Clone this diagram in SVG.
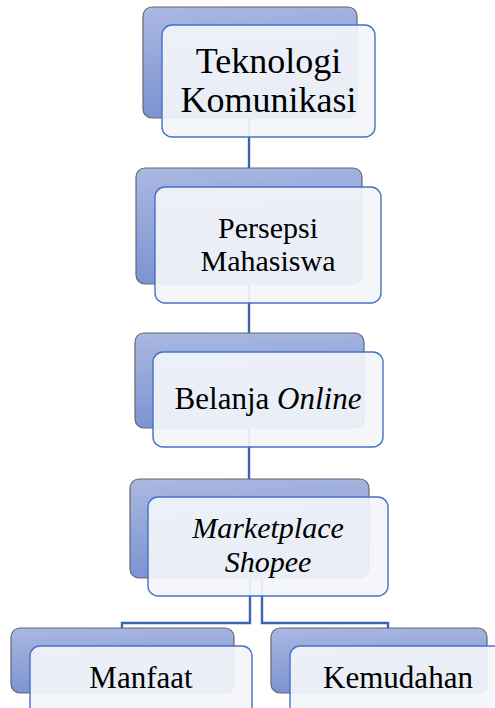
<svg xmlns="http://www.w3.org/2000/svg" width="495" height="708" viewBox="0 0 495 708">
  <defs>
    <linearGradient id="backGrad" x1="0" y1="0" x2="0.15" y2="1">
      <stop offset="0" stop-color="#aab8e1"/>
      <stop offset="1" stop-color="#7c93d2"/>
    </linearGradient>
    <style>
      .back { fill: url(#backGrad); stroke: #62666e; stroke-width: 1.2; }
      .front { fill: #f3f5fa; fill-opacity: 0.92; stroke: #4472c4; stroke-width: 1.4; }
      .conn { fill: none; stroke: #3d65ad; stroke-width: 2.4; }
      .lbl { font-family: "Liberation Serif", "Times New Roman", serif; fill: #000; text-anchor: middle; }
      .it { font-style: italic; }
    </style>
  </defs>
  <rect width="495" height="708" fill="#ffffff"/>

  <g id="connectors">
    <path class="conn" d="M249,118 V168"/>
    <path class="conn" d="M249,284 V333"/>
    <path class="conn" d="M249,428 V479"/>
    <path class="conn" d="M250,578 V623 H122 V629"/>
    <path class="conn" d="M262,578 V623 H388 V629"/>
  </g>

  <g id="node-teknologi">
    <rect class="back" x="143" y="7" width="214" height="111" rx="9"/>
    <rect class="front" x="162" y="25" width="213" height="112" rx="10"/>
    <text class="lbl" font-size="36" x="268.5" y="73">Teknologi</text>
    <text class="lbl" font-size="36" x="268.5" y="112">Komunikasi</text>
  </g>

  <g id="node-persepsi">
    <rect class="back" x="136" y="168" width="226" height="116" rx="9"/>
    <rect class="front" x="155" y="187" width="226" height="116" rx="10"/>
    <text class="lbl" font-size="30" x="268" y="238">Persepsi</text>
    <text class="lbl" font-size="30" x="268" y="271">Mahasiswa</text>
  </g>

  <g id="node-belanja">
    <rect class="back" x="135" y="333" width="229" height="95" rx="9"/>
    <rect class="front" x="153" y="352" width="230" height="95" rx="10"/>
    <text class="lbl" font-size="31" x="268" y="409">Belanja <tspan class="it">Online</tspan></text>
  </g>

  <g id="node-marketplace">
    <rect class="back" x="130" y="479" width="239" height="99" rx="9"/>
    <rect class="front" x="148" y="497" width="240" height="99" rx="10"/>
    <text class="lbl it" font-size="30" x="268" y="538">Marketplace</text>
    <text class="lbl it" font-size="30" x="268" y="572">Shopee</text>
  </g>

  <g id="node-manfaat">
    <rect class="back" x="11" y="628" width="223" height="65" rx="9"/>
    <rect class="front" x="30" y="646" width="222" height="80" rx="10"/>
    <text class="lbl" font-size="31" x="141" y="688">Manfaat</text>
  </g>

  <g id="node-kemudahan">
    <rect class="back" x="271" y="628" width="216" height="65" rx="9"/>
    <rect class="front" x="290" y="646" width="216" height="80" rx="10"/>
    <text class="lbl" font-size="31" x="398" y="688">Kemudahan</text>
  </g>
</svg>
